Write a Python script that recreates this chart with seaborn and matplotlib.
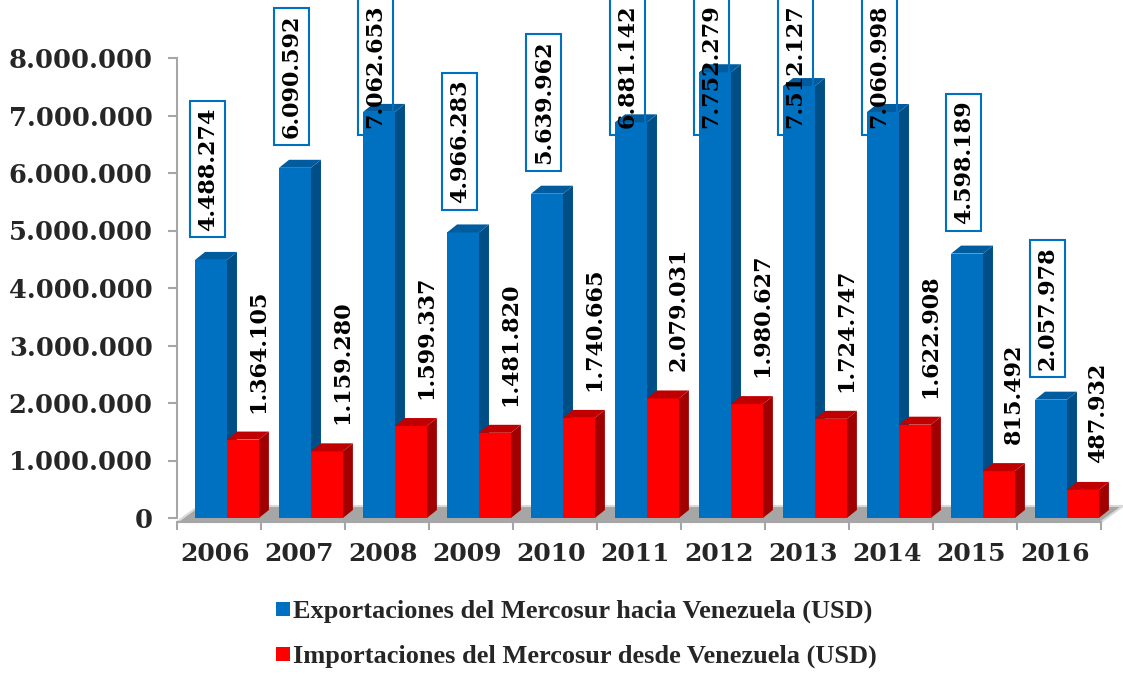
import pandas as pd
import seaborn as sns
import matplotlib.pyplot as plt
from matplotlib.patches import Polygon
from matplotlib.lines import Line2D

# Data
years = ["2006", "2007", "2008", "2009", "2010", "2011",
         "2012", "2013", "2014", "2015", "2016"]
exportaciones = [4488274, 6090592, 7062653, 4966283, 5639962, 6881142,
                 7752279, 7512127, 7060998, 4598189, 2057978]
importaciones = [1364105, 1159280, 1599337, 1481820, 1740665, 2079031,
                 1980627, 1724747, 1622908, 815492, 487932]
series_names = ["Exportaciones del Mercosur hacia Venezuela (USD)",
                "Importaciones del Mercosur desde Venezuela (USD)"]
y_ticks = [0, 1000000, 2000000, 3000000, 4000000,
           5000000, 6000000, 7000000, 8000000]

df = pd.DataFrame({
    "year": years * 2,
    "serie": [series_names[0]] * len(years) + [series_names[1]] * len(years),
    "value": exportaciones + importaciones,
})

blue, red = "#0070C0", "#FF0000"
side_col = {blue: "#004E86", red: "#A00000"}
top_col = {blue: "#005C9E", red: "#C00000"}


def fmt(v):
    return f"{int(v):,}".replace(",", ".")


sns.set_style("white")
plt.rcParams["font.family"] = ["DejaVu Serif"]
plt.rcParams["font.weight"] = "bold"

fig = plt.figure(figsize=(11.23, 6.74), dpi=100)
W, H = 1123, 674
ax = fig.add_axes([177 / W, 1 - 518 / H, (1101 - 177) / W, (518 - 58) / H])

sns.barplot(data=df, x="year", y="value", hue="serie", palette=[blue, red],
            width=0.76, dodge=True, saturation=1, legend=False, ax=ax,
            zorder=3, linewidth=0)

ax.set_xlim(-0.595, len(years) - 0.595)
ax.set_ylim(0, 8000000)

# pixel -> data conversion
ux = len(years) / (1101 - 177)
uy = 8000000 / (518 - 58)

# floor of the 3D chart
fx0, fx1 = ax.get_xlim()
floor = Polygon([(fx0, -4 * uy), (fx1, -4 * uy),
                 (fx1 + 22 * ux, 12 * uy), (fx0 + 22 * ux, 12 * uy)],
                closed=True, facecolor="#A6A6A6", edgecolor="#D9D9D9",
                linewidth=1.5, clip_on=False, zorder=1)
ax.add_patch(floor)

# 3D faces for each bar
ddx, ddy = 10 * ux, 8 * uy
for cont, col in zip(ax.containers, (blue, red)):
    for p in cont.patches:
        x0, w, h = p.get_x(), p.get_width(), p.get_height()
        ax.add_patch(Polygon([(x0 + w, 0), (x0 + w + ddx, ddy),
                              (x0 + w + ddx, h + ddy), (x0 + w, h)],
                             closed=True, facecolor=side_col[col],
                             linewidth=0, zorder=2.9, clip_on=False))
        ax.add_patch(Polygon([(x0, h), (x0 + w, h), (x0 + w + ddx, h + ddy),
                              (x0 + ddx, h + ddy)],
                             closed=True, facecolor=top_col[col],
                             linewidth=0, zorder=3.1, clip_on=False))

# data labels
exp_bars, imp_bars = ax.containers[0].patches, ax.containers[1].patches
for p, v in zip(exp_bars, exportaciones):
    cx = p.get_x() + p.get_width() / 2 - 0.04
    y = min(v + 0.51e6, 6.78e6)
    ax.text(cx, y, fmt(v), rotation=90, ha="center", va="bottom",
            fontsize=16, fontweight="bold", color="black", zorder=6,
            clip_on=False,
            bbox=dict(boxstyle="square,pad=0.3", facecolor="none",
                      edgecolor=blue, linewidth=1.5))
for p, v in zip(imp_bars, importaciones):
    cx = p.get_x() + p.get_width() / 2 + 0.18
    ax.text(cx, v + 0.47e6, fmt(v), rotation=90, ha="center", va="bottom",
            fontsize=16, fontweight="bold", color="black", zorder=6,
            clip_on=False)

# axes styling
sns.despine(ax=ax, top=True, right=True)
ax.spines["left"].set_color("#A6A6A6")
ax.spines["left"].set_linewidth(1.5)
ax.spines["bottom"].set_color("#A6A6A6")
ax.spines["bottom"].set_linewidth(1.5)
ax.spines["bottom"].set_position(("outward", 3))
ax.set_yticks(y_ticks)
ax.set_yticklabels([fmt(v) for v in y_ticks])
ax.tick_params(axis="y", length=6.5, width=1.5, color="#A6A6A6", pad=11,
               labelsize=18.5, direction="out", left=True)
ax.set_xticks([i - 0.14 for i in range(len(years))])
ax.set_xticklabels(years)
ax.set_xticks([i - 0.595 for i in range(len(years) + 1)], minor=True)
ax.tick_params(axis="x", which="major", length=0, pad=14, labelsize=18)
ax.tick_params(axis="x", which="minor", length=6, width=1.5,
               color="#A6A6A6", direction="out", bottom=True)
ax.set_xlabel("")
ax.set_ylabel("")
ax.grid(False)

handles = [Line2D([0], [0], marker="s", linestyle="none", markersize=10,
                  markerfacecolor=c, markeredgewidth=0) for c in (blue, red)]
fig.legend(handles, series_names, loc="center",
           bbox_to_anchor=(576 / W, 1 - 634 / H), frameon=False,
           handlelength=0.6, handletextpad=0.05, labelspacing=0.8,
           borderpad=0,
           prop={"family": "Liberation Serif", "weight": "bold", "size": 19})

fig.savefig("out.png", dpi=100)
